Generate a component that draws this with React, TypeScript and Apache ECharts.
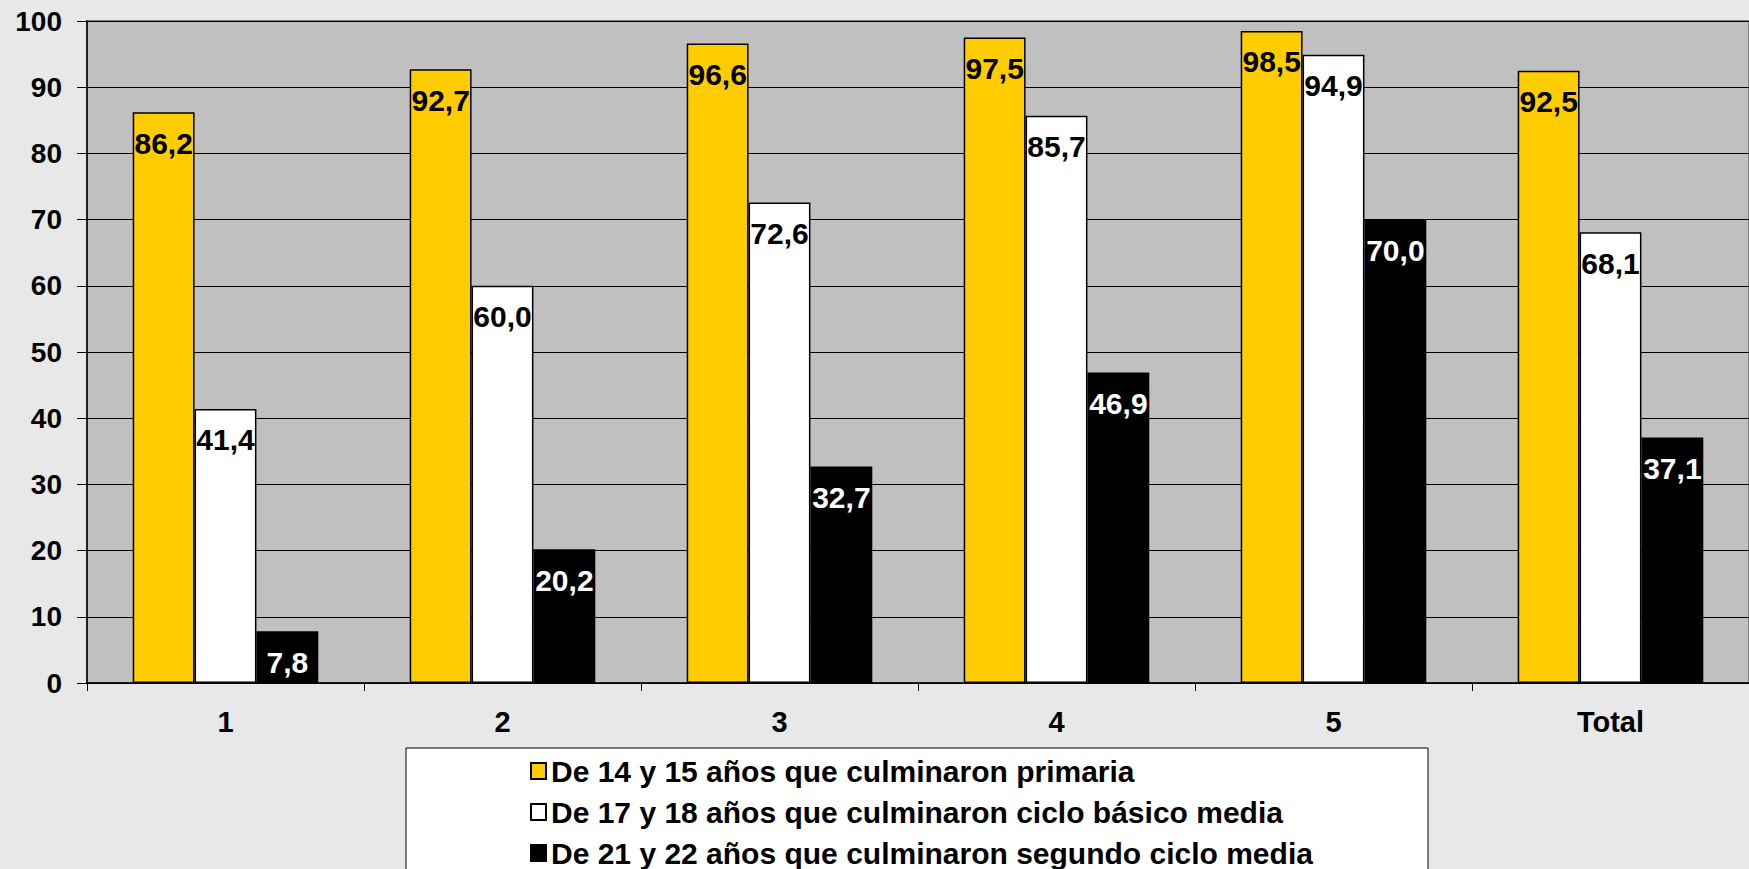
import React, { useEffect, useRef } from "react";
import * as echarts from "echarts";

const categories = ["1", "2", "3", "4", "5", "Total"];
const seriesNames = [
  "De 14 y 15 años que culminaron primaria",
  "De 17 y 18 años que culminaron ciclo básico media",
  "De 21 y 22 años que culminaron segundo ciclo media",
];
const primaria = [86.2, 92.7, 96.6, 97.5, 98.5, 92.5];
const basico = [41.4, 60.0, 72.6, 85.7, 94.9, 68.1];
const segundo = [7.8, 20.2, 32.7, 46.9, 70.0, 37.1];
const yTicks = { min: 0, max: 100, interval: 10 };

const FONT = "'Liberation Sans', Arial, sans-serif";

export default function App() {
  const ref = useRef<HTMLDivElement>(null);
  useEffect(() => {
    if (!ref.current) return;
    const chart = echarts.init(ref.current, null, { renderer: "svg" });
    const fmt = (p: any) => Number(p.value).toFixed(1).replace(".", ",");
    const mk = (name: string, data: number[], fill: string, textColor: string) => ({
      name,
      type: "bar",
      data,
      barGap: "0%",
      barCategoryGap: "33%",
      itemStyle: { color: fill, borderColor: "#000", borderWidth: 1.5 },
      label: {
        show: true,
        position: "insideTop",
        distance: 16,
        formatter: fmt,
        color: textColor,
        fontSize: 30,
        fontWeight: "bold",
        fontFamily: FONT,
      },
    });
    chart.setOption({
      animation: false,
      backgroundColor: "#e8e8e8",
      grid: {
        left: 87,
        top: 21,
        right: -5,
        bottom: 186,
        show: true,
        backgroundColor: "#c0c0c0",
        borderColor: "#808080",
        borderWidth: 2,
        containLabel: false,
      },
      graphic: [
        {
          type: "rect",
          shape: { x: 406, y: 748, width: 1022, height: 140 },
          style: { fill: "#ffffff", stroke: "#000000", lineWidth: 1 },
          z: 0,
        },
      ],
      legend: {
        orient: "vertical",
        left: 530,
        top: 756,
        height: 160,
        padding: 0,
        itemWidth: 15,
        itemHeight: 16,
        itemGap: 11,
        icon: "rect",
        z: 5,
        textStyle: {
          fontSize: 30,
          fontWeight: "bold",
          fontFamily: FONT,
          color: "#000",
          lineHeight: 30,
        },
        data: seriesNames,
      },
      xAxis: {
        type: "category",
        data: categories,
        axisLine: { show: true, lineStyle: { color: "#000", width: 1.5 } },
        axisTick: { show: true, length: 8, interval: 0, lineStyle: { color: "#000" } },
        axisLabel: {
          margin: 24,
          fontSize: 29,
          fontWeight: "bold",
          fontFamily: FONT,
          color: "#000",
        },
        splitLine: { show: false },
      },
      yAxis: {
        type: "value",
        min: yTicks.min,
        max: yTicks.max,
        interval: yTicks.interval,
        axisLine: { show: true, lineStyle: { color: "#000", width: 1.5 } },
        axisTick: { show: true, length: 10, lineStyle: { color: "#000" } },
        axisLabel: {
          margin: 25,
          fontSize: 28,
          fontWeight: "bold",
          fontFamily: FONT,
          color: "#000",
        },
        splitLine: { show: true, lineStyle: { color: "#000", width: 1 } },
      },
      series: [
        mk(seriesNames[0], primaria, "#ffcc00", "#000"),
        mk(seriesNames[1], basico, "#ffffff", "#000"),
        mk(seriesNames[2], segundo, "#000000", "#ffffff"),
      ],
    });
    return () => chart.dispose();
  }, []);
  return (
    <div
      ref={ref}
      style={{ position: "absolute", left: 0, top: 0, width: 1749, height: 869 }}
    />
  );
}
